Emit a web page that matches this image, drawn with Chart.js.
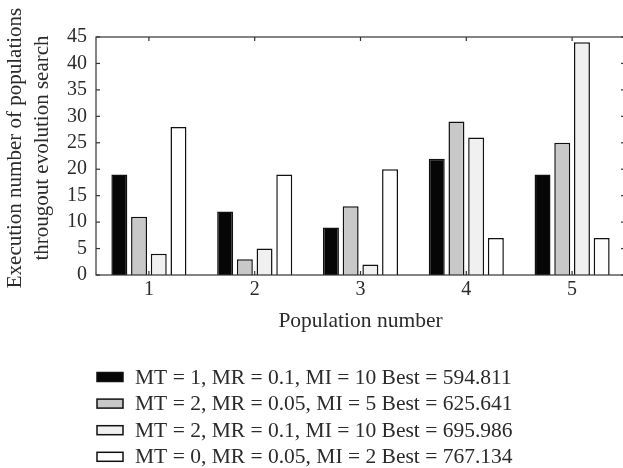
<!DOCTYPE html>
<html>
<head>
<meta charset="utf-8">
<script src="https://cdn.jsdelivr.net/npm/chart.js@4"></script>
<style>
  html, body { margin: 0; padding: 0; background: #fff; overflow: hidden; }
  canvas { display: block; }
</style>
</head>
<body>
<canvas id="chart" width="627" height="468"></canvas>
<script>
const populations = ['1', '2', '3', '4', '5'];
const seriesLabels = [
  'MT = 1, MR = 0.1, MI = 10 Best = 594.811',
  'MT = 2, MR = 0.05, MI = 5 Best = 625.641',
  'MT = 2, MR = 0.1, MI = 10 Best = 695.986',
  'MT = 0, MR = 0.05, MI = 2 Best = 767.134'
];
const mt1Values = [19, 12, 9, 22, 19];
const mt2LowValues = [11, 3, 13, 29, 25];
const mt2HighValues = [4, 5, 2, 26, 44];
const mt0Values = [28, 19, 20, 7, 7];
const yTicks = [0, 5, 10, 15, 20, 25, 30, 35, 40, 45];
const yTitle = ['Execution number of populations', 'througout evolution search'];
const xTitle = 'Population number';

const fills = ['#060606', '#c8c8c8', '#eff0ef', '#ffffff'];
const FONT = '"Liberation Serif", "Times New Roman", serif';
const TEXT = '#2b2b2b';

// inward tick marks + closed frame, like the original plot box
const frameTicks = {
  id: 'frameTicks',
  afterDatasetsDraw(chart) {
    const { ctx, chartArea: a, scales: { x, y } } = chart;
    ctx.save();
    ctx.strokeStyle = '#333';
    ctx.lineWidth = 1.2;
    ctx.strokeRect(a.left, a.top, a.right - a.left, a.bottom - a.top);
    const line = (x1, y1, x2, y2) => {
      ctx.beginPath(); ctx.moveTo(x1, y1); ctx.lineTo(x2, y2); ctx.stroke();
    };
    y.ticks.forEach(t => {
      const py = y.getPixelForValue(t.value);
      line(a.left, py, a.left + 4, py);
      line(a.right - 4, py, a.right, py);
    });
    x.ticks.forEach((t, i) => {
      const px = x.getPixelForTick(i);
      line(px, a.top, px, a.top + 4);
      line(px, a.bottom - 4, px, a.bottom);
    });
    ctx.restore();
  }
};

// y title drawn by hand: the original sits a little above the plot centre
const yTitleText = {
  id: 'yTitleText',
  afterDraw(chart) {
    const { ctx, chartArea: a } = chart;
    const cy = (a.top + a.bottom) / 2 - 8;
    ctx.save();
    ctx.font = '21px ' + FONT;
    ctx.fillStyle = TEXT;
    ctx.textAlign = 'center';
    ctx.textBaseline = 'middle';
    yTitle.forEach((txt, i) => {
      ctx.save();
      ctx.translate(15 + i * 27, cy);
      ctx.rotate(-Math.PI / 2);
      ctx.fillText(txt, 0, 0);
      ctx.restore();
    });
    ctx.restore();
  }
};

// legend as a left-aligned column under the axis title
const columnLegend = {
  id: 'columnLegend',
  afterDraw(chart) {
    const { ctx, scales: { x } } = chart;
    const top = x.bottom + 43;
    ctx.save();
    ctx.font = '21.5px ' + FONT;
    ctx.textBaseline = 'middle';
    chart.data.datasets.forEach((ds, i) => {
      const cy = top + i * 26.6;
      ctx.fillStyle = ds.backgroundColor;
      ctx.fillRect(97, cy - 4.5, 26, 9);
      ctx.strokeStyle = '#111';
      ctx.lineWidth = 1.5;
      ctx.strokeRect(97, cy - 4.5, 26, 9);
      ctx.fillStyle = TEXT;
      ctx.fillText(ds.label, 135, cy + 1);
    });
    ctx.restore();
  }
};

const series = [mt1Values, mt2LowValues, mt2HighValues, mt0Values];

new Chart(document.getElementById('chart'), {
  type: 'bar',
  data: {
    labels: populations,
    datasets: series.map((vals, i) => ({
      label: seriesLabels[i],
      data: vals,
      backgroundColor: fills[i],
      borderColor: '#111',
      borderWidth: 1.5,
      barPercentage: 0.81,
      categoryPercentage: 0.745
    }))
  },
  options: {
    responsive: false,
    animation: false,
    events: [],
    layout: { padding: { left: 0, top: 37, right: 2, bottom: 134 } },
    plugins: { legend: { display: false }, tooltip: { enabled: false } },
    scales: {
      x: {
        grid: { display: false, drawTicks: false },
        border: { display: false },
        ticks: { color: TEXT, padding: 3, font: { family: FONT, size: 20 } },
        title: {
          display: true, text: xTitle, color: TEXT,
          padding: { top: 0, bottom: 0 },
          font: { family: FONT, size: 21.5, lineHeight: 1.2 }
        },
        afterFit(s) { s.height = 59; }
      },
      y: {
        min: 0,
        max: 45,
        grid: { display: false, drawTicks: false },
        border: { display: false },
        afterBuildTicks(s) { s.ticks = yTicks.map(v => ({ value: v })); },
        ticks: { color: TEXT, padding: 9, autoSkip: false, font: { family: FONT, size: 20 } },
        title: { display: false },
        afterFit(s) { s.width = 96; }
      }
    }
  },
  plugins: [frameTicks, yTitleText, columnLegend]
});
</script>
</body>
</html>
